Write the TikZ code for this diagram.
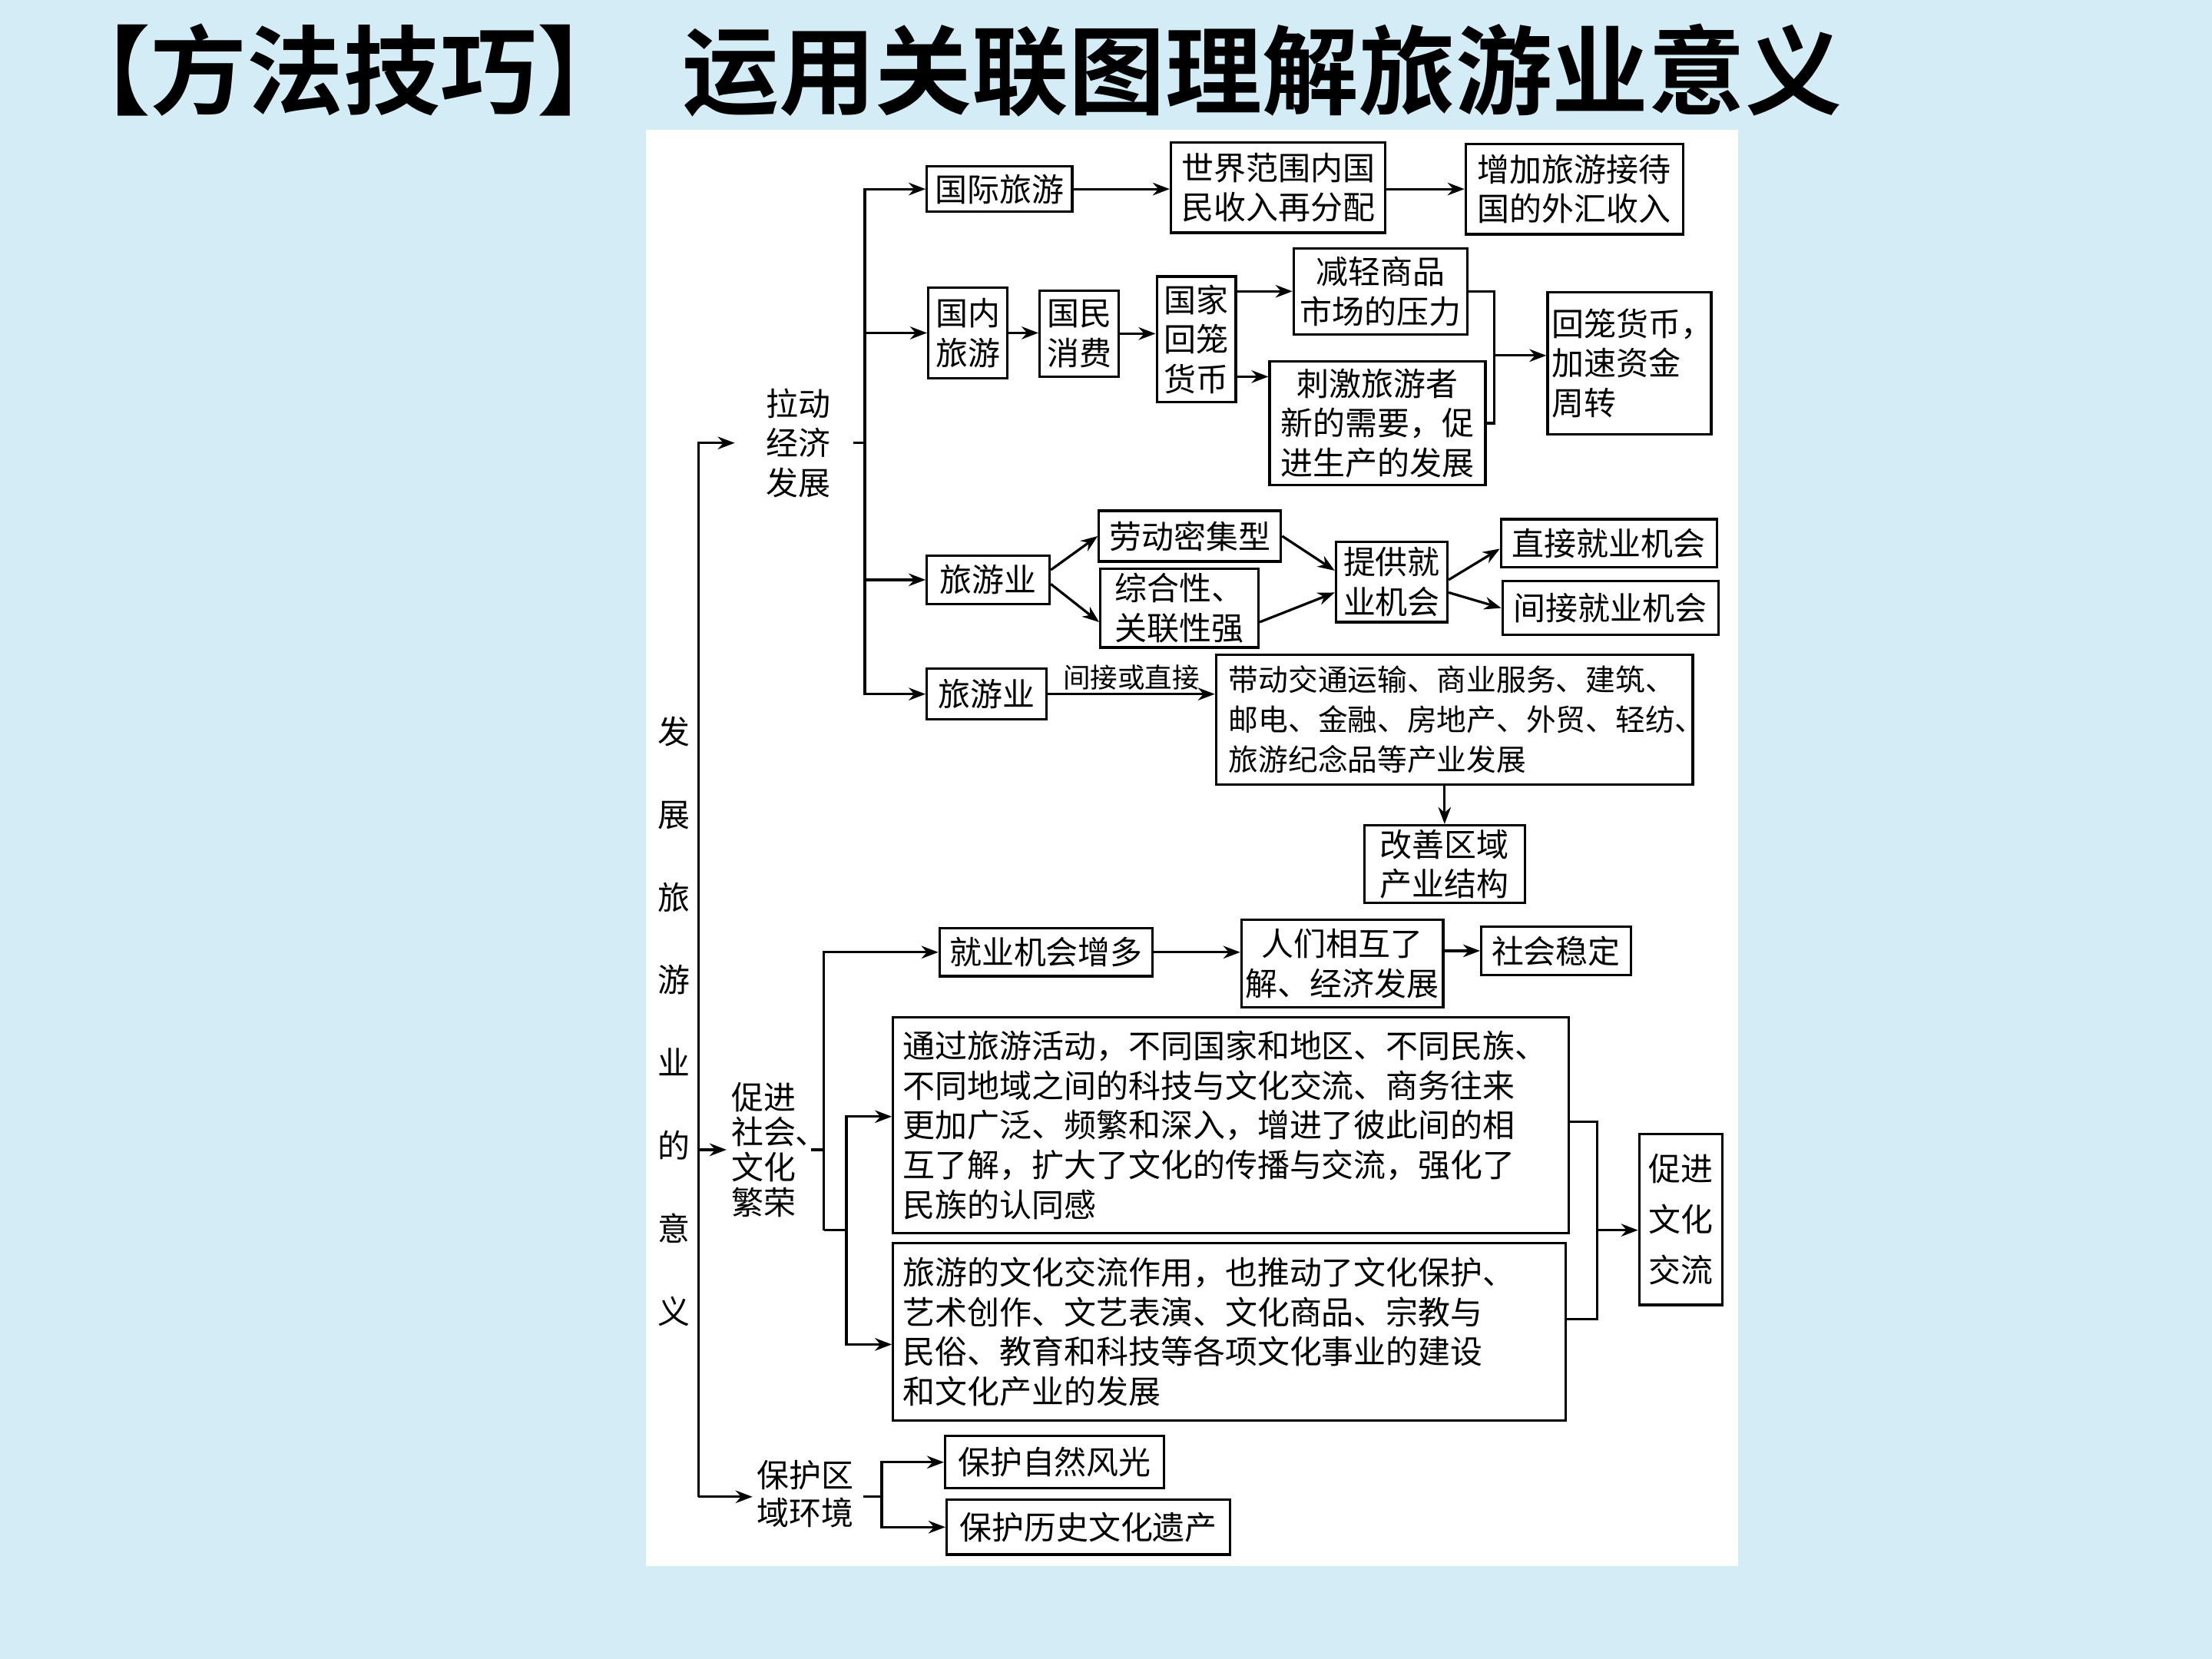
\documentclass[tikz,border=0pt]{standalone}
\usepackage{fontspec}
\usepackage{tikz}
\usetikzlibrary{arrows.meta}
\newfontfamily\cjk{Noto Sans CJK SC}
\newfontfamily\cjkbold{Noto Sans CJK SC Bold}
\newcommand\bxfont{\fontsize{13pt}{16pt}\selectfont\cjk}
\newcommand\smfont{\fontsize{12pt}{16pt}\selectfont\cjk}
\newcommand\lblfont{\fontsize{11pt}{13pt}\selectfont\cjk}
\newcommand\hdfont{\fontsize{39pt}{40pt}\selectfont\cjkbold}
\definecolor{pagebg}{RGB}{212,236,245}
\tikzset{
  box/.style={draw, line width=1pt, inner sep=0pt, align=center, font=\bxfont},
  boxl/.style={draw, line width=1pt, inner ysep=0pt, align=left, font=\bxfont},
  txtblk/.style={inner sep=0pt, align=center, font=\bxfont},
  lnk/.style={line width=1pt},
  arr/.style={-{Stealth[length=2.4mm,width=1.8mm]}, line width=1pt}
}

\begin{document}
\begin{tikzpicture}[x=0.02cm, y=-0.02cm]
  \useasboundingbox (0,0) rectangle (1568,1176);
  \fill[pagebg] (0,0) rectangle (1568,1176);
  \fill[white] (458,92) rectangle (1232,1110);
  % Title
  \node[font=\hdfont, inner sep=0pt] (title) at (672,50) {【方法技巧】\hspace{0.5em}运用关联图理解旅游业意义};
  % Trunk
  \node[inner sep=0pt, align=center, font={\fontsize{13pt}{33.4pt}\selectfont\cjk}] (fzly) at (478,724)
    {发\\展\\旅\\游\\业\\的\\意\\义};
  \coordinate (tr2) at (495,815);
  \coordinate (tr3) at (495,1061);
  % Economic branch
  \node[txtblk] (ldjj) at (566,314) {拉动\\经济\\发展};
  \node[box, minimum width=2.06cm, minimum height=0.64cm] (gjly) at (708.5,134) {国际旅游};
  \node[box, minimum width=3.04cm, minimum height=1.28cm] (sjfw) at (906,133) {世界范围内国\\民收入再分配};
  \node[box, minimum width=3.08cm, minimum height=1.28cm] (zjwh) at (1116,134) {增加旅游接待\\国的外汇收入};
  \node[box, minimum width=1.12cm, minimum height=1.28cm] (gnly) at (686,236) {国内\\旅游};
  \node[box, minimum width=1.12cm, minimum height=1.22cm] (gmxf) at (765,236.5) {国民\\消费};
  \node[box, minimum width=1.12cm, minimum height=1.78cm] (gjhl) at (848,240.5) {国家\\回笼\\货币};
  \node[box, minimum width=2.46cm, minimum height=1.22cm] (jqsp) at (978.5,206.5) {减轻商品\\市场的压力};
  \node[box, minimum width=3.06cm, minimum height=1.76cm] (cjxq) at (976.5,300) {刺激旅游者\\新的需要，促\\进生产的发展};
  \node[boxl, text width=2.2cm, inner xsep=0.06cm, minimum height=2.02cm] (hlhb) at (1155,257.5) {回笼货币，\\加速资金\\周转};
  \node[box, minimum width=1.74cm, minimum height=0.68cm] (lyy1) at (700.5,411) {旅游业};
  \node[box, minimum width=2.58cm, minimum height=0.72cm] (ldmj) at (843.5,380) {劳动密集型};
  \node[box, minimum width=2.24cm, minimum height=1.12cm] (zhx) at (836,431) {综合性、\\关联性强};
  \node[box, minimum width=1.58cm, minimum height=1.14cm] (tgjy) at (986.5,412.5) {提供就\\业机会};
  \node[box, minimum width=3.06cm, minimum height=0.68cm] (zjjy) at (1140.5,385) {直接就业机会};
  \node[box, minimum width=3.06cm, minimum height=0.76cm] (jjjy) at (1141.5,431) {间接就业机会};
  \node[box, minimum width=1.70cm, minimum height=0.72cm] (lyy2) at (699.5,492) {旅游业};
  \node[boxl, font=\smfont, text width=6.4cm, inner xsep=0.18cm, minimum height=1.84cm] (ddcy) at (1031,510)
    {带动交通运输、商业服务、建筑、\\邮电、金融、房地产、外贸、轻纺、\\旅游纪念品等产业发展};
  \node[box, minimum width=2.28cm, minimum height=1.10cm] (gsqy) at (1024,612.5) {改善区域\\产业结构};
  % Social and cultural branch
  \node[txtblk, anchor=west, align=left, font={\fontsize{13pt}{14.2pt}\selectfont\cjk}] (cjsh) at (518,815)
    {促进\\社会、\\文化\\繁荣};
  \node[box, minimum width=3.02cm, minimum height=0.68cm] (jyzd) at (741.5,675) {就业机会增多};
  \node[box, minimum width=2.86cm, minimum height=1.24cm] (rmlj) at (951.5,683) {人们相互了\\解、经济发展};
  \node[box, minimum width=2.12cm, minimum height=0.68cm] (shwd) at (1103,674) {社会稳定};
  \node[boxl, text width=9.3cm, inner xsep=0.14cm, minimum height=3.06cm] (tghd) at (872.5,797.5)
    {通过旅游活动，不同国家和地区、不同民族、\\不同地域之间的科技与文化交流、商务往来\\更加广泛、频繁和深入，增进了彼此间的相\\互了解，扩大了文化的传播与交流，强化了\\民族的认同感};
  \node[boxl, text width=9.26cm, inner xsep=0.14cm, minimum height=2.52cm] (whjl) at (871.5,944)
    {旅游的文化交流作用，也推动了文化保护、\\艺术创作、文艺表演、文化商品、宗教与\\民俗、教育和科技等各项文化事业的建设\\和文化产业的发展};
  \node[box, font={\fontsize{13pt}{20.4pt}\selectfont\cjk}, minimum width=1.18cm, minimum height=2.42cm] (cjjl) at (1191.5,864.5)
    {促进\\文化\\交流};
  % Environment branch
  \node[txtblk, font={\fontsize{13pt}{15.3pt}\selectfont\cjk}] (bhqy) at (571,1059) {保护区\\域环境};
  \node[box, minimum width=3.10cm, minimum height=0.74cm] (bhzr) at (747.5,1036.5) {保护自然风光};
  \node[box, minimum width=4.02cm, minimum height=0.78cm] (bhls) at (771.5,1082.5) {保护历史文化遗产};

  % Trunk arrows
  \draw[arr, shorten >=0.44cm] (tr3) |- (ldjj.west);
  \draw[arr, shorten >=0.06cm] (tr2) -- (cjsh.west);
  \draw[arr, shorten >=0.06cm] (tr3) -- (bhqy.west |- tr3);
  % Economic connectors
  \coordinate (b0) at (605,314);
  \coordinate (b1) at (613,314);
  \draw[lnk] (b0) -- (b1);
  \draw[arr] (b1) |- (gjly.west);
  \draw[arr] (b1) |- (gnly.west);
  \draw[arr] (b1) |- (lyy1.west);
  \draw[arr] (b1) |- (lyy2.west);
  \draw[arr] (gjly.east) -- (gjly.east -| sjfw.west);
  \draw[arr] (sjfw.east |- zjwh.west) -- (zjwh.west);
  \draw[arr] (gnly.east) -- (gnly.east -| gmxf.west);
  \draw[arr] (gmxf.east) -- (gmxf.east -| gjhl.west);
  \draw[arr] (gjhl.east |- jqsp.west) -- (jqsp.west);
  \coordinate (c1) at (0,267);
  \draw[arr] (gjhl.east |- c1) -- (cjxq.west |- c1);
  \coordinate (k1) at (1059,252);
  \draw[lnk] (jqsp.east) -| (k1) |- (cjxq.east);
  \draw[arr] (k1) -- (k1 -| hlhb.west);
  \draw[arr] ([yshift=0.14cm]lyy1.east) -- (ldmj.west);
  \draw[arr] ([yshift=-0.06cm]lyy1.east) -- ([yshift=-0.2cm]zhx.west);
  \draw[arr] (ldmj.east) -- ([yshift=0.16cm]tgjy.west);
  \draw[arr] ([yshift=-0.2cm]zhx.east) -- ([yshift=-0.15cm]tgjy.west);
  \draw[arr] ([yshift=0.03cm]tgjy.east) -- ([yshift=-0.08cm]zjjy.west);
  \draw[arr] ([yshift=-0.15cm]tgjy.east) -- (jjjy.west);
  \draw[arr] (lyy2.east) -- (lyy2.east -| ddcy.west)
    node[midway, above=1pt, font=\lblfont, inner sep=0pt] (jjhz) {间接或直接};
  \draw[arr] (gsqy.north |- ddcy.south) -- (gsqy.north);
  % Social connectors
  \coordinate (m0) at (575,815);
  \coordinate (m1) at (584,815);
  \coordinate (m2) at (584,872);
  \coordinate (m3) at (600,872);
  \draw[lnk] (m0) -- (m1);
  \draw[arr] (m2) |- (jyzd.west);
  \draw[lnk] (m2) -- (m3);
  \draw[arr] (m3) |- ([yshift=0.12cm]tghd.west);
  \draw[arr] (m3) |- ([yshift=-0.18cm]whjl.west);
  \draw[arr] (jyzd.east) -- (jyzd.east -| rmlj.west);
  \draw[arr] (rmlj.east |- shwd.west) -- (shwd.west);
  \coordinate (r1) at (1132,872);
  \draw[lnk] ([yshift=0.05cm]tghd.east) -| (r1) |- ([yshift=0.18cm]whjl.east);
  \draw[arr] (r1) -- (r1 -| cjjl.west);
  % Environment connectors
  \coordinate (p0) at (612,1061);
  \coordinate (p1) at (625,1061);
  \draw[lnk] (p0) -- (p1);
  \draw[arr] (p1) |- (bhzr.west);
  \draw[arr] (p1) |- (bhls.west);
\end{tikzpicture}
\end{document}
